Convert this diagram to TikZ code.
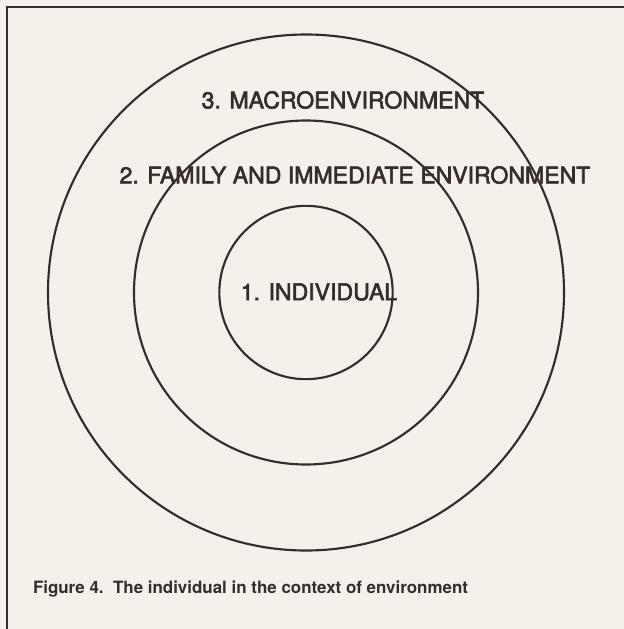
\documentclass[tikz,border=0pt]{standalone}
\usepackage{fontspec}
\setmainfont{TeX Gyre Heros}
\newfontfamily\ringfont[FakeBold=2.5]{TeX Gyre Heros}
\usepackage{xcolor}
\usepackage{tikz}
\usetikzlibrary{positioning}

\definecolor{paper}{RGB}{244,240,234}
\definecolor{ink}{RGB}{52,45,42}

\begin{document}
\begin{tikzpicture}[x=0.75pt,y=-0.75pt,line width=1.5pt,
  ring/.style={draw=ink,line width=1.6pt},
  lbl/.style={text=ink,inner sep=0pt,font=\ringfont\fontsize{17.3}{19}\selectfont}]
\fill[paper] (0,0) rectangle (624,629);
\useasboundingbox (0,0) rectangle (624,629);
\coordinate (O) at (306,292.5);
% frame, runs off to the right and bottom
\draw[ink,line width=1.2pt] (630,7) -- (7,7) -- (7,635);
% the three rings
\draw[ring] (O) circle (193.5pt);
\draw[ring] (O) circle (129pt);
\draw[ring] (O) circle (65pt);
\node[lbl] (macro) at (343,100) {3. MACROENVIRONMENT};
\node[lbl] (family) at (355,175) {2. FAMILY AND IMMEDIATE ENVIRONMENT};
\node[lbl] (indiv) at (319,292) {1. INDIVIDUAL};
\node[text=ink,inner sep=0pt,anchor=west,font=\bfseries\fontsize{12.7}{14}\selectfont] (caption) at (32,589) {Figure 4.\ \ The individual in the context of environment};
\end{tikzpicture}
\end{document}
